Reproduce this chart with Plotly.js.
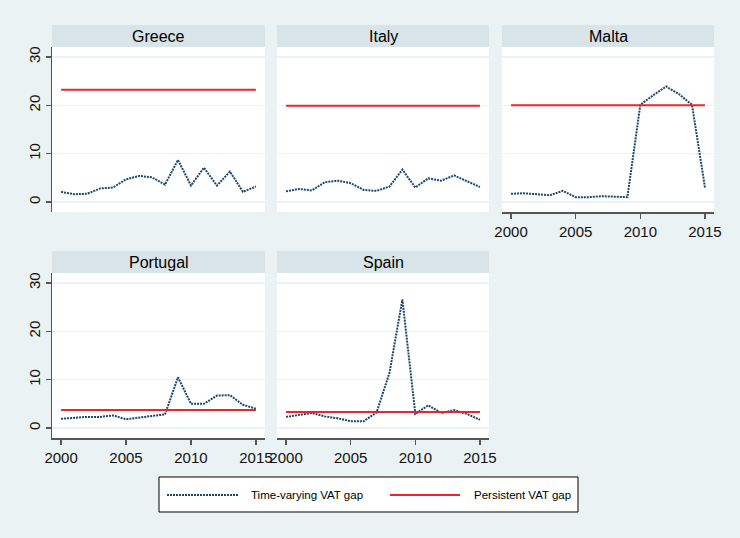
<!DOCTYPE html>
<html>
<head>
<meta charset="utf-8">
<script src="https://cdn.plot.ly/plotly-3.0.1.min.js"></script>
<style>
  html, body { margin: 0; padding: 0; background: #EAF2F3; }
  #chart { width: 740px; height: 538px; }
</style>
</head>
<body>
<div id="chart"></div>
<script>
// ---- data ----
const years = [2000, 2001, 2002, 2003, 2004, 2005, 2006, 2007, 2008, 2009, 2010, 2011, 2012, 2013, 2014, 2015];
const countries = ["Greece", "Italy", "Malta", "Portugal", "Spain"];
const greeceGap   = [2.1, 1.6, 1.7, 2.8, 3.0, 4.7, 5.4, 5.1, 3.6, 8.7, 3.4, 7.1, 3.4, 6.3, 2.1, 3.2];
const italyGap    = [2.2, 2.7, 2.4, 4.1, 4.4, 3.9, 2.5, 2.3, 3.2, 6.7, 3.0, 4.9, 4.4, 5.5, 4.3, 3.1];
const maltaGap    = [1.7, 1.8, 1.6, 1.4, 2.3, 1.0, 1.0, 1.2, 1.1, 1.0, 20.1, 22.1, 23.9, 22.3, 20.1, 3.0];
const portugalGap = [1.9, 2.1, 2.3, 2.3, 2.6, 1.8, 2.2, 2.5, 2.8, 10.5, 5.0, 5.0, 6.7, 6.8, 4.8, 4.0];
const spainGap    = [2.3, 2.7, 3.1, 2.4, 2.0, 1.4, 1.4, 3.2, 11.4, 26.6, 2.9, 4.7, 3.1, 3.7, 2.9, 1.7];
const persistentGap = [23.2, 19.9, 20.0, 3.7, 3.3];
const yTicks = [0, 10, 20, 30];
const xTicks = [2000, 2005, 2010, 2015];
const legendLabels = ["Time-varying VAT gap", "Persistent VAT gap"];

// ---- styling / layout ----
const W = 740, H = 538;
const BG = "#EAF2F3", STRIP = "#D9E4E9", GRID = "#EAF2F3";
const NAVY = "#1A476F", RED = "#E8262B", AXIS = "#555555";
const FONT = "Liberation Sans, Arial, sans-serif";
const timeGaps = [greeceGap, italyGap, maltaGap, portugalGap, spainGap];

// pixel boxes for panels [left, right, top, bottom]
const cols = [[52, 265], [277, 489], [502, 714]];
const rows = [[47, 212], [273, 438]];
const panelPos = [[0, 0], [0, 1], [0, 2], [1, 0], [1, 1]];
const stripH = 22;
const xRange = [1999.3, 2015.7];
const yRange = [-2.07, 32.07];

const traces = [];
const layout = {
  width: W, height: H,
  margin: {l: 0, r: 0, t: 0, b: 0},
  paper_bgcolor: BG, plot_bgcolor: "#FFFFFF",
  showlegend: false,
  font: {family: FONT, color: "#000000"},
  shapes: [], annotations: []
};

countries.forEach((c, i) => {
  const [r, col] = panelPos[i];
  const [x0, x1] = cols[col];
  const [y0, y1] = rows[r];
  const n = i + 1;
  const xa = "x" + (n === 1 ? "" : n), ya = "y" + (n === 1 ? "" : n);
  traces.push({
    x: years, y: timeGaps[i], xaxis: xa, yaxis: ya, type: "scatter", mode: "lines",
    line: {color: NAVY, width: 2, dash: "2px,1px"}, hoverinfo: "skip"
  });
  traces.push({
    x: [years[0], years[years.length - 1]], y: [persistentGap[i], persistentGap[i]],
    xaxis: xa, yaxis: ya, type: "scatter", mode: "lines",
    line: {color: RED, width: 2}, hoverinfo: "skip"
  });
  const hasX = (i >= 2);
  const hasY = (col === 0);
  layout["xaxis" + (n === 1 ? "" : n)] = {
    domain: [x0 / W, x1 / W], anchor: ya, range: xRange,
    showgrid: false, zeroline: false,
    showline: hasX, linecolor: AXIS, linewidth: 1.5,
    ticks: hasX ? "outside" : "", ticklen: 5, tickwidth: 1.5, tickcolor: AXIS,
    tickvals: xTicks, showticklabels: hasX,
    tickfont: {family: FONT, size: 15, color: "#111111"}
  };
  layout["yaxis" + (n === 1 ? "" : n)] = {
    domain: [(H - y1) / H, (H - y0) / H], anchor: xa, range: yRange,
    showgrid: true, gridcolor: GRID, gridwidth: 1.5, zeroline: false,
    showline: hasY, linecolor: AXIS, linewidth: 1.5,
    ticks: hasY ? "outside" : "", ticklen: 5, tickwidth: 1.5, tickcolor: AXIS,
    tickvals: yTicks, showticklabels: hasY, tickangle: -90,
    tickfont: {family: FONT, size: 15, color: "#111111"}
  };
  // strip
  layout.shapes.push({
    type: "rect", xref: "paper", yref: "paper",
    x0: x0 / W, x1: x1 / W, y0: (H - y0) / H, y1: (H - y0 + stripH) / H,
    fillcolor: STRIP, line: {width: 0}, layer: "below"
  });
  layout.annotations.push({
    xref: "paper", yref: "paper", x: (x0 + x1) / 2 / W, y: (H - y0 + stripH / 2) / H,
    text: c, showarrow: false, xanchor: "center", yanchor: "middle",
    font: {family: FONT, size: 16, color: "#000000"}
  });
});

// legend box
const lb = {x0: 159, x1: 578, y0: 477, y1: 512};
layout.shapes.push({
  type: "rect", xref: "paper", yref: "paper",
  x0: lb.x0 / W, x1: lb.x1 / W, y0: (H - lb.y1) / H, y1: (H - lb.y0) / H,
  fillcolor: "#FFFFFF", line: {color: "#000000", width: 1}
});
const ly = (H - 495) / H;
layout.shapes.push({
  type: "line", xref: "paper", yref: "paper", x0: 167 / W, x1: 239 / W, y0: ly, y1: ly,
  line: {color: NAVY, width: 2, dash: "2px,1px"}
});
layout.shapes.push({
  type: "line", xref: "paper", yref: "paper", x0: 390 / W, x1: 460 / W, y0: ly, y1: ly,
  line: {color: RED, width: 2}
});
[[249, legendLabels[0]], [472, legendLabels[1]]].forEach(([px, t]) => {
  layout.annotations.push({
    xref: "paper", yref: "paper", x: px / W, y: ly, text: t, showarrow: false,
    xanchor: "left", yanchor: "middle",
    font: {family: FONT, size: 11.5, color: "#000000"}
  });
});

Plotly.newPlot("chart", traces, layout, {staticPlot: true, displayModeBar: false});
</script>
</body>
</html>
